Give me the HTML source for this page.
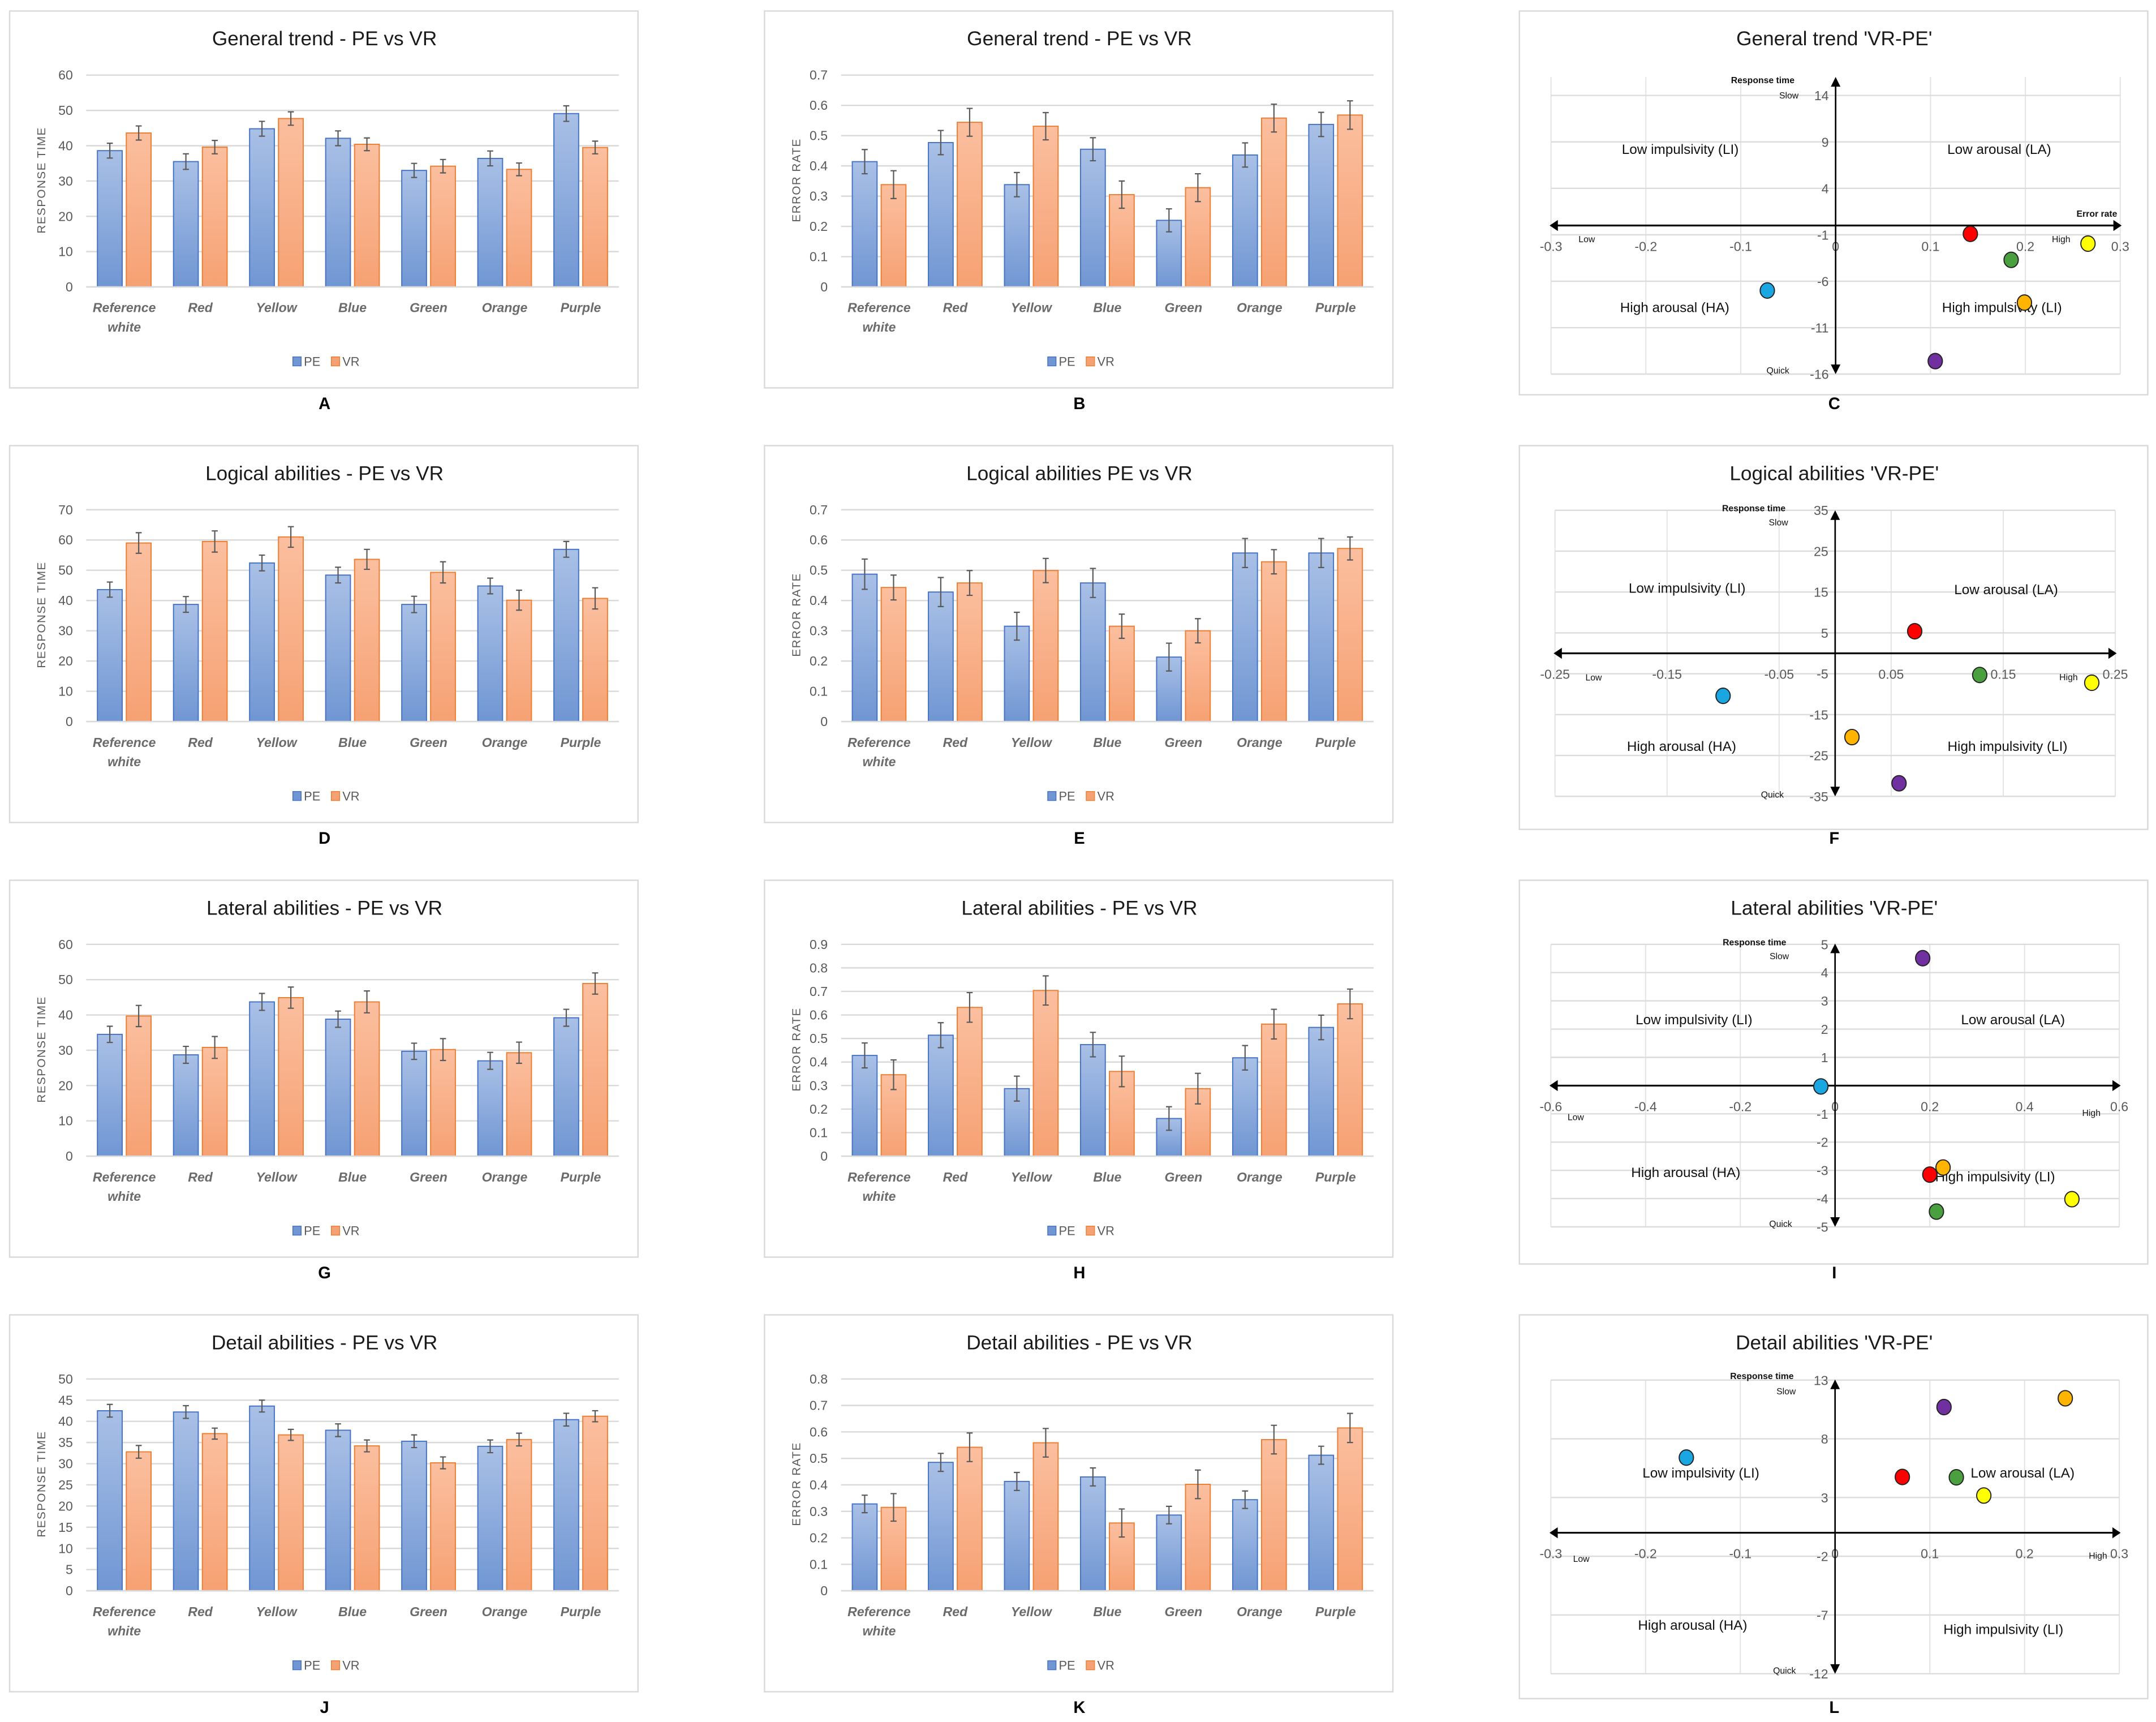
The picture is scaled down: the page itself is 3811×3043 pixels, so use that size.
<!DOCTYPE html>
<html><head><meta charset="utf-8"><title>PE vs VR charts</title>
<style>
html,body{margin:0;padding:0;background:#fff;}
svg{display:block;font-family:"Liberation Sans",sans-serif;}
</style></head>
<body>
<svg id="fig" xmlns="http://www.w3.org/2000/svg" width="3811" height="3043" viewBox="0 0 1568 1252">
<defs>
<linearGradient id="gPE" x1="0" y1="0" x2="0" y2="1"><stop offset="0" stop-color="#a9c0e6"/><stop offset="1" stop-color="#7096d3"/></linearGradient>
<linearGradient id="gVR" x1="0" y1="0" x2="0" y2="1"><stop offset="0" stop-color="#fbbf9f"/><stop offset="1" stop-color="#f6a173"/></linearGradient>
</defs>
<rect x="0" y="0" width="1568" height="1252" fill="#fff"/>
</svg>
<script>
const cats = ["Reference white","Red","Yellow","Blue","Green","Orange","Purple"];
const legendNames = ["PE","VR"];
// Panel A
const aTicks = [0,10,20,30,40,50,60];
const aPE = [38.6,35.5,44.8,42.1,33.0,36.4,49.1];
const aVR = [43.6,39.6,47.7,40.4,34.2,33.3,39.5];
const aPEerr = [2.1,2.2,2.1,2.1,2.0,2.1,2.2];
const aVRerr = [2.0,1.9,1.9,1.8,1.9,1.8,1.8];
// Panel B
const bTicks = [0,0.1,0.2,0.3,0.4,0.5,0.6,0.7];
const bPE = [0.414,0.477,0.338,0.455,0.22,0.436,0.537];
const bVR = [0.338,0.544,0.531,0.305,0.328,0.558,0.568];
const bPEerr = [0.04,0.04,0.04,0.038,0.038,0.04,0.04];
const bVRerr = [0.046,0.046,0.045,0.045,0.046,0.046,0.047];
// Panel D
const dTicks = [0,10,20,30,40,50,60,70];
const dPE = [43.6,38.7,52.4,48.4,38.7,44.8,56.9];
const dVR = [59.0,59.5,61.0,53.6,49.3,40.1,40.7];
const dPEerr = [2.5,2.6,2.6,2.6,2.7,2.6,2.6];
const dVRerr = [3.4,3.5,3.4,3.3,3.5,3.3,3.5];
// Panel E
const eTicks = [0,0.1,0.2,0.3,0.4,0.5,0.6,0.7];
const ePE = [0.487,0.428,0.315,0.458,0.213,0.557,0.557];
const eVR = [0.443,0.458,0.499,0.315,0.300,0.528,0.572];
const ePEerr = [0.05,0.048,0.046,0.048,0.046,0.048,0.048];
const eVRerr = [0.041,0.041,0.04,0.04,0.04,0.04,0.038];
// Panel G
const gTicks = [0,10,20,30,40,50,60];
const gPE = [34.5,28.7,43.7,38.8,29.7,27.0,39.2];
const gVR = [39.7,30.8,44.9,43.7,30.2,29.3,48.9];
const gPEerr = [2.3,2.4,2.4,2.3,2.3,2.4,2.4];
const gVRerr = [3.0,3.1,3.0,3.1,3.1,3.0,3.0];
// Panel H
const hTicks = [0,0.1,0.2,0.3,0.4,0.5,0.6,0.7,0.8,0.9];
const hPE = [0.428,0.514,0.287,0.474,0.160,0.418,0.547];
const hVR = [0.346,0.632,0.704,0.360,0.287,0.561,0.647];
const hPEerr = [0.053,0.053,0.053,0.052,0.05,0.052,0.052];
const hVRerr = [0.063,0.063,0.062,0.065,0.065,0.063,0.063];
// Panel J
const jTicks = [0,5,10,15,20,25,30,35,40,45,50];
const jPE = [42.5,42.2,43.6,37.9,35.3,34.1,40.4];
const jVR = [32.8,37.1,36.8,34.2,30.2,35.7,41.2];
const jPEerr = [1.5,1.5,1.4,1.5,1.5,1.5,1.5];
const jVRerr = [1.5,1.3,1.3,1.4,1.4,1.5,1.3];
// Panel K
const kTicks = [0,0.1,0.2,0.3,0.4,0.5,0.6,0.7,0.8];
const kPE = [0.328,0.485,0.413,0.430,0.286,0.344,0.512];
const kVR = [0.315,0.542,0.559,0.256,0.402,0.571,0.615];
const kPEerr = [0.033,0.034,0.034,0.034,0.033,0.033,0.034];
const kVRerr = [0.052,0.054,0.054,0.053,0.054,0.054,0.055];
// Scatter points order
const pointNames = ["red","yellow","green","blue","orange","purple"];
const pointColors = ["#ff0000","#ffff00","#4aa03f","#1aa6e0","#ffb400","#7030a0"];
// Panel C
const cX = [0.142,0.266,0.185,-0.072,0.199,0.105];
const cY = [-0.9,-1.95,-3.7,-7.0,-8.3,-14.6];
const cXTicks = [-0.3,-0.2,-0.1,0,0.1,0.2,0.3];
const cYTicks = [14,9,4,-1,-6,-11,-16];
// Panel F
const fX = [0.071,0.229,0.129,-0.1,0.015,0.057];
const fY = [5.4,-7.2,-5.3,-10.4,-20.5,-31.8];
const fXTicks = [-0.25,-0.15,-0.05,0.05,0.15,0.25];
const fYTicks = [35,25,15,5,-5,-15,-25,-35];
// Panel I
const iX = [0.2,0.5,0.214,-0.03,0.228,0.185];
const iY = [-3.15,-4.02,-4.46,-0.03,-2.9,4.51];
const iXTicks = [-0.6,-0.4,-0.2,0,0.2,0.4,0.6];
const iYTicks = [5,4,3,2,1,-1,-2,-3,-4,-5];
// Panel L
const lX = [0.071,0.157,0.128,-0.157,0.243,0.115];
const lY = [4.75,3.17,4.72,6.4,11.45,10.7];
const lXTicks = [-0.3,-0.2,-0.1,0,0.1,0.2,0.3];
const lYTicks = [13,8,3,-2,-7,-12];

const NS = "http://www.w3.org/2000/svg";
const svg = document.getElementById('fig');
function mk(tag, attrs, parent){
  const e = document.createElementNS(NS, tag);
  for (const k in attrs) e.setAttribute(k, attrs[k]);
  parent.appendChild(e);
  return e;
}
function txt(str, attrs, parent){
  const t = mk('text', attrs, parent);
  t.textContent = str;
  return t;
}
function fmtTick(v){ return String(Math.round(v*100)/100); }

function barChart(o){
  const g = mk('g', {}, svg);
  
  
  const ox = o.ox, oy = o.oy;
  const box = mk('rect', {x:ox+7, y:oy+8, width:457, height:274, fill:'#fff', stroke:'#d9d9d9', 'stroke-width':1}, g);
  
  
  const title = txt(o.title, {x:ox+236, y:oy+33, 'font-size':14.5, 'text-anchor':'middle', fill:'#1a1a1a'}, g);
  
  
  const top = oy+54.6, bot = oy+208.6, left = ox+62.7, right = ox+450;
  const ymax = o.ticks[o.ticks.length-1];
  const y = v => bot - (v/ymax)*(bot-top);
  o.ticks.forEach(v => {
    const gl = mk('line', {x1:left, x2:right, y1:y(v), y2:y(v), stroke:'#d9d9d9', 'stroke-width':1}, g);
    
    
    const tl = txt(fmtTick(v), {x:ox+53, y:y(v)+3.3, 'font-size':9.5, 'text-anchor':'end', fill:'#595959'}, g);
    
    
  });
  const yt = txt(o.yTitle, {x:0, y:0, 'font-size':8.5, 'text-anchor':'middle', fill:'#595959', 'letter-spacing':0.6, transform:'translate('+(ox+33)+','+(oy+131)+') rotate(-90)'}, g);
  
  
  const band = (right-left)/cats.length;
  const bw = 18;
  cats.forEach((c, i) => {
    const x0 = left + i*band + (band - 2*bw - 3)/2;
    const series = [[o.pe, o.peE, 'url(#gPE)', '#4472c4', 'pe'], [o.vr, o.vrE, 'url(#gVR)', '#ed7d31', 'vr']];
    series.forEach((s, k) => {
      const v = s[0][i], e = s[1][i];
      const bx = x0 + k*(bw+3);
      const r = mk('rect', {x:bx, y:y(v), width:bw, height:bot-y(v), fill:s[2], stroke:s[3], 'stroke-width':0.8}, g);
      
      
      const cx = bx + bw/2;
      const eb = mk('path', {d:'M'+cx+' '+y(v+e)+'V'+y(v-e)+'M'+(cx-2.2)+' '+y(v+e)+'H'+(cx+2.2)+'M'+(cx-2.2)+' '+y(v-e)+'H'+(cx+2.2), stroke:'#595959', 'stroke-width':0.9, fill:'none'}, g);
      
      
    });
    const cxl = left + band*(i+0.5);
    const words = c === 'Reference white' ? ['Reference','white'] : [c];
    words.forEach((w, j) => {
      const cl = txt(w, {x:cxl, y:oy+227+j*14, 'font-size':9.5, 'font-style':'italic', 'font-weight':'bold', 'text-anchor':'middle', fill:'#6b6b6b'}, g);
      
      
    });
  });
  const base = mk('line', {x1:left, x2:right, y1:bot, y2:bot, stroke:'#d9d9d9', 'stroke-width':1}, g);
  
  
  const lg = [[ox+213,'#7096d3','#4472c4'],[ox+241,'#f6a173','#ed7d31']];
  lg.forEach((l, k) => {
    const sw = mk('rect', {x:l[0], y:oy+259.5, width:6, height:6.5, fill:l[1], stroke:l[2], 'stroke-width':0.6}, g);
    
    
    const lt = txt(legendNames[k], {x:l[0]+8, y:oy+266, 'font-size':9, fill:'#595959'}, g);
    
    
  });
  const lt = txt(o.letter, {x:ox+236, y:oy+297.5, 'font-size':12, 'font-weight':'bold', 'text-anchor':'middle', fill:'#000'}, svg);
  
  
}

function scatter(o){
  const g = mk('g', {}, svg);
  
  
  const oy = o.oy;
  const box = mk('rect', {x:1105, y:oy+8, width:457, height:279, fill:'#fff', stroke:'#d9d9d9', 'stroke-width':1}, g);
  
  
  const title = txt(o.title, {x:1334, y:oy+33, 'font-size':14.5, 'text-anchor':'middle', fill:'#1a1a1a'}, g);
  
  
  const L = o.left, R = o.right, T = oy+o.top, B = oy+o.bot;
  const xmin = o.xt[0], xmax = o.xt[o.xt.length-1];
  const ymax = o.yt[0], ymin = o.yt[o.yt.length-1];
  const x = v => L + (v - xmin)/(xmax - xmin)*(R - L);
  const y = v => T + (ymax - v)/(ymax - ymin)*(B - T);
  const gTop = oy + (o.gridTop || o.top);
  o.xt.forEach(v => {
    const gl = mk('line', {x1:x(v), x2:x(v), y1:gTop, y2:B, stroke:'#e3e3e3', 'stroke-width':0.8}, g);
    
    
  });
  const ygrid = o.ygrid || o.yt;
  ygrid.forEach(v => {
    const gl = mk('line', {x1:L, x2:R, y1:y(v), y2:y(v), stroke:'#dcdcdc', 'stroke-width':1}, g);
    
    
  });
  const x0 = x(0), y0 = y(0);
  o.yt.forEach(v => {
    const tl = txt(fmtTick(v), {x:x0-5, y:y(v)+3.5, 'font-size':9.5, 'text-anchor':'end', fill:'#595959'}, g);
    
    
  });
  o.xt.forEach(v => {
    const tl = txt(fmtTick(v), {x:x(v), y:y0+18.5, 'font-size':9.5, 'text-anchor':'middle', fill:'#595959'}, g);
    
    
  });
  const ax = mk('path', {d:'M'+(L+3)+' '+y0+'H'+(R-3), stroke:'#000', 'stroke-width':1.3, fill:'none'}, g);
  
  
  const ah = mk('path', {d:'M'+(L-1)+' '+y0+'l6 -4v8zM'+(R+1)+' '+y0+'l-6 -4v8z', fill:'#000'}, g);
  
  
  const ayTop = oy + o.arrTop, ayBot = oy + o.arrBot;
  const ay = mk('path', {d:'M'+x0+' '+(ayTop+3)+'V'+(ayBot-3), stroke:'#000', 'stroke-width':1.1, fill:'none'}, g);
  
  
  const ayh = mk('path', {d:'M'+x0+' '+(ayTop-1)+'l-3.5 7h7zM'+x0+' '+(ayBot+1)+'l-3.5 -7h7z', fill:'#000'}, g);
  
  
  o.notes.forEach(n => {
    const t = txt(n[0], {x:n[1], y:oy+n[2]+3, 'font-size':n[3], 'font-weight':n[4]?'bold':'normal', 'text-anchor':'middle', fill:'#111'}, g);
    
    
  });
  o.px.forEach((v, i) => {
    const c = mk('ellipse', {cx:x(v), cy:y(o.py[i]), rx:5.2, ry:5.6, fill:pointColors[i], stroke:'#222', 'stroke-width':0.8}, g);
    
    
  });
  const lt = txt(o.letter, {x:1334, y:oy+297.5, 'font-size':12, 'font-weight':'bold', 'text-anchor':'middle', fill:'#000'}, svg);
  
  
}

const RT = 'RESPONSE TIME', ER = 'ERROR RATE';
barChart({id:'a', ox:0, oy:0, title:'General trend - PE vs VR', ticks:aTicks, yTitle:RT, pe:aPE, vr:aVR, peE:aPEerr, vrE:aVRerr, letter:'A'});
barChart({id:'b', ox:549, oy:0, title:'General trend - PE vs VR', ticks:bTicks, yTitle:ER, pe:bPE, vr:bVR, peE:bPEerr, vrE:bVRerr, letter:'B'});
barChart({id:'d', ox:0, oy:316, title:'Logical abilities - PE vs VR', ticks:dTicks, yTitle:RT, pe:dPE, vr:dVR, peE:dPEerr, vrE:dVRerr, letter:'D'});
barChart({id:'e', ox:549, oy:316, title:'Logical abilities PE vs VR', ticks:eTicks, yTitle:ER, pe:ePE, vr:eVR, peE:ePEerr, vrE:eVRerr, letter:'E'});
barChart({id:'g', ox:0, oy:632, title:'Lateral abilities - PE vs VR', ticks:gTicks, yTitle:RT, pe:gPE, vr:gVR, peE:gPEerr, vrE:gVRerr, letter:'G'});
barChart({id:'h', ox:549, oy:632, title:'Lateral abilities - PE vs VR', ticks:hTicks, yTitle:ER, pe:hPE, vr:hVR, peE:hPEerr, vrE:hVRerr, letter:'H'});
barChart({id:'j', ox:0, oy:948, title:'Detail abilities - PE vs VR', ticks:jTicks, yTitle:RT, pe:jPE, vr:jVR, peE:jPEerr, vrE:jVRerr, letter:'J'});
barChart({id:'k', ox:549, oy:948, title:'Detail abilities - PE vs VR', ticks:kTicks, yTitle:ER, pe:kPE, vr:kVR, peE:kPEerr, vrE:kVRerr, letter:'K'});

const q = 10;
scatter({id:'c', oy:0, title:"General trend 'VR-PE'", left:1128, right:1542, top:69.4, bot:272, gridTop:56, arrTop:57, arrBot:271,
  xt:cXTicks, yt:cYTicks, px:cX, py:cY, letter:'C',
  notes:[["Response time",1282,57.5,6.5,true,'y-axis-title'],["Slow",1301,68.5,6.5,false,'slow-label'],["Quick",1293,268.5,6.5,false,'quick-label'],
    ["Error rate",1525,154.5,6.5,true,'x-axis-title'],["Low",1154,173,6.5,false,'low-label'],["High",1499,173,6.5,false,'high-label'],
    ["Low impulsivity (LI)",1222,109,q,false,'quadrant-low-impulsivity'],["Low arousal (LA)",1454,109,q,false,'quadrant-low-arousal'],
    ["High arousal (HA)",1218,224,q,false,'quadrant-high-arousal'],["High impulsivity (LI)",1456,224,q,false,'quadrant-high-impulsivity']]});
scatter({id:'f', oy:316, title:"Logical abilities 'VR-PE'", left:1130.9, right:1538.4, top:55, bot:263, arrTop:56, arrBot:262,
  xt:fXTicks, yt:fYTicks, px:fX, py:fY, letter:'F',
  notes:[["Response time",1275.5,52.8,6.5,true,'y-axis-title'],["Slow",1293.4,63,6.5,false,'slow-label'],["Quick",1289,261,6.5,false,'quick-label'],
    ["Low",1159,175.8,6.5,false,'low-label'],["High",1504.4,175.5,6.5,false,'high-label'],
    ["Low impulsivity (LI)",1227,112,q,false,'quadrant-low-impulsivity'],["Low arousal (LA)",1459,113,q,false,'quadrant-low-arousal'],
    ["High arousal (HA)",1223,227,q,false,'quadrant-high-arousal'],["High impulsivity (LI)",1460,227,q,false,'quadrant-high-impulsivity']]});
scatter({id:'i', oy:632, title:"Lateral abilities 'VR-PE'", left:1127.9, right:1541.3, top:54.6, bot:260, arrTop:55, arrBot:259,
  xt:iXTicks, yt:iYTicks, ygrid:[5,4,3,2,1,0,-1,-2,-3,-4,-5], px:iX, py:iY, letter:'I',
  notes:[["Response time",1276,52.4,6.5,true,'y-axis-title'],["Slow",1294,62.4,6.5,false,'slow-label'],["Quick",1295,257,6.5,false,'quick-label'],
    ["Low",1146,179.4,6.5,false,'low-label'],["High",1521,176.4,6.5,false,'high-label'],
    ["Low impulsivity (LI)",1232,109.6,q,false,'quadrant-low-impulsivity'],["Low arousal (LA)",1464,109.6,q,false,'quadrant-low-arousal'],
    ["High arousal (HA)",1226,220.8,q,false,'quadrant-high-arousal'],["High impulsivity (LI)",1451,223.8,q,false,'quadrant-high-impulsivity']]});
scatter({id:'l', oy:948, title:"Detail abilities 'VR-PE'", left:1127.9, right:1541.3, top:55.4, bot:268.9, arrTop:56, arrBot:268,
  xt:lXTicks, yt:lYTicks, px:lX, py:lY, letter:'L',
  notes:[["Response time",1281.4,51.7,6.5,true,'y-axis-title'],["Slow",1299,62.7,6.5,false,'slow-label'],["Quick",1297.8,265.9,6.5,false,'quick-label'],
    ["Low",1150,184.6,6.5,false,'low-label'],["High",1525.8,182.4,6.5,false,'high-label'],
    ["Low impulsivity (LI)",1237,123.3,q,false,'quadrant-low-impulsivity'],["Low arousal (LA)",1471,123.3,q,false,'quadrant-low-arousal'],
    ["High arousal (HA)",1231,234,q,false,'quadrant-high-arousal'],["High impulsivity (LI)",1457,237,q,false,'quadrant-high-impulsivity']]});
</script>
</body></html>
